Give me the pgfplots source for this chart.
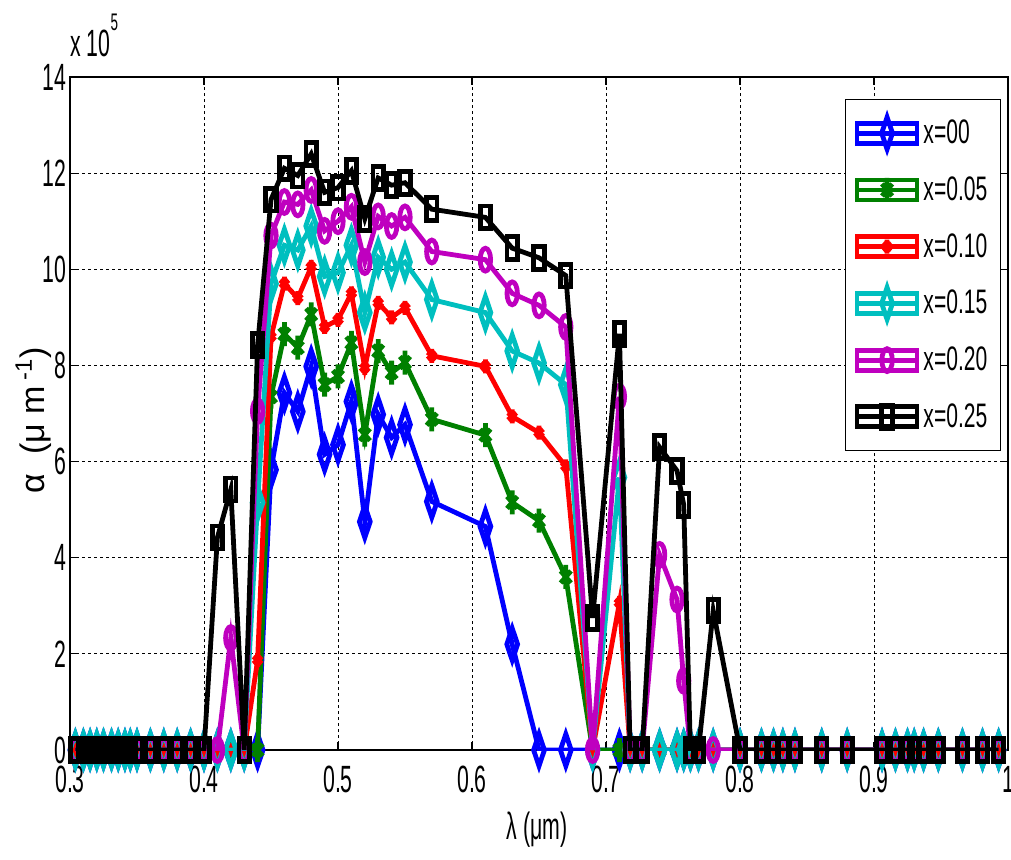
\documentclass[border=0pt]{standalone}
\usepackage{fontspec}
\setmainfont{Liberation Sans}
\newfontfamily\nf[FakeStretch=0.56]{Liberation Sans}
\newfontfamily\lf[FakeStretch=0.62]{Liberation Sans}
\usepackage{pgfplots}
\pgfplotsset{compat=1.18}
\usepackage{pgfplotstable}

\definecolor{mblue}{rgb}{0,0,1}
\definecolor{mgreen}{rgb}{0,0.5,0}
\definecolor{mred}{rgb}{1,0,0}
\definecolor{mcyan}{rgb}{0,0.75,0.75}
\definecolor{mmag}{rgb}{0.75,0,0.75}

\pgfplotstableread{
x      b     g     r     c      m      k
0.304  0     0     0     0      0      0
0.310  0     0     0     0      0      0
0.315  0     0     0     0      0      0
0.320  0     0     0     0      0      0
0.325  0     0     0     0      0      0
0.331  0     0     0     0      0      0
0.336  0     0     0     0      0      0
0.341  0     0     0     0      0      0
0.345  0     0     0     0      0      0
0.350  0     0     0     0      0      0
0.360  0     0     0     0      0      0
0.370  0     0     0     0      0      0
0.380  0     0     0     0      0      0
0.390  0     0     0     0      0      0
0.400  0     0     0     0      0      0
0.410  0     0     0     0      0      4.42
0.420  0     0     0     0      2.33   5.42
0.430  0     0     0     0      0      0
0.440  0     0     1.87  5.15   7.05   8.42
0.450  5.83  7.35  8.60  9.70   10.70  11.45
0.460  7.43  8.65  9.70  10.50  11.40  12.10
0.470  7.04  8.37  9.40  10.40  11.35  11.95
0.480  7.98  9.06  10.05 10.90  11.65  12.40
0.490  6.15  7.60  8.80  9.85   10.80  11.60
0.500  6.35  7.77  8.95  9.93   11.00  11.70
0.510  7.25  8.47  9.50  10.50  11.30  12.05
0.520  4.75  6.56  7.95  9.10   10.15  11.05
0.530  6.98  8.30  9.30  10.25  11.10  11.90
0.540  6.50  7.85  9.00  10.00  10.90  11.75
0.550  6.77  8.06  9.20  10.15  11.08  11.80
0.570  5.17  6.88  8.20  9.37   10.37  11.25
0.610  4.65  6.55  7.98  9.10   10.20  11.08
0.630  2.20  5.15  6.94  8.30   9.50   10.44
0.650  0     4.77  6.60  8.05   9.25   10.24
0.670  0     3.60  5.90  7.60   8.80   9.87
0.690  0     0     0     0      0      2.75
0.710  0     0     3.06  5.67   7.35   8.66
0.718  0     0     0     0      0      0
0.727  0     0     0     0      0      0
0.740  0     0     0     0      4.06   6.30
0.753  0     0     0     0      3.13   5.81
0.758  0     0     0     0      1.44   5.10
0.763  0     0     0     0      0      0
0.769  0     0     0     0      0      0
0.780  0     0     0     0      0      2.90
0.800  0     0     0     0      0      0
0.816  0     0     0     0      0      0
0.825  0     0     0     0      0      0
0.832  0     0     0     0      0      0
0.841  0     0     0     0      0      0
0.861  0     0     0     0      0      0
0.880  0     0     0     0      0      0
0.906  0     0     0     0      0      0
0.916  0     0     0     0      0      0
0.925  0     0     0     0      0      0
0.930  0     0     0     0      0      0
0.937  0     0     0     0      0      0
0.948  0     0     0     0      0      0
0.966  0     0     0     0      0      0
0.981  0     0     0     0      0      0
0.993  0     0     0     0      0      0
}\data

\begin{document}
\begin{tikzpicture}
\begin{axis}[
  scale only axis, width=469pt, height=336.5pt,
  xmin=0.3, xmax=1.0, ymin=0, ymax=14,
  clip mode=individual,
  xtick={0.3,0.4,0.5,0.6,0.7,0.8,0.9,1.0},
  xticklabels={0.3,0.4,0.5,0.6,0.7,0.8,0.9,1},
  ytick={0,2,4,6,8,10,12,14},
  tick align=inside, major tick length=4pt,
  grid=major,
  grid style={black, line width=0.5pt, dash pattern=on 1.5pt off 1.5pt},
  axis line style={line width=0.6pt},
  tick style={black, line width=0.6pt},
  ticklabel style={font=\nf\fontsize{19}{19}\selectfont},
  yticklabel style={inner xsep=1.5pt, inner ysep=0pt},
  xticklabel style={inner ysep=0pt, yshift=-8pt},
  /pgf/number format/assume math mode=true,
  xlabel={λ (μm)},
  xlabel style={font=\nf\fontsize{19}{19}\selectfont, at={(rel axis cs:0.498,-0.119)}, anchor=center},
  ylabel={α\ \ (μ m\,\textsuperscript{-1})},
  ylabel style={font=\fontsize{17}{17}\selectfont, at={(rel axis cs:-0.039,0.49)}, anchor=center},
  legend style={at={(rel axis cs:0.9925,0.967)}, anchor=north east, draw=black, line width=0.6pt,
    font=\lf\fontsize{17}{17}\selectfont, inner xsep=4.5pt, inner ysep=8pt, row sep=11pt,
    /tikz/every even column/.append style={column sep=0.5pt}},
  legend cell align=left,
  legend image code/.code={%
    \begin{pgfinterruptboundingbox}
    \draw[mark repeat=2,mark phase=2,#1] plot coordinates {(0pt,0pt) (15pt,0pt) (30pt,0pt)};
    \end{pgfinterruptboundingbox}
    \path (0pt,-5pt) rectangle (30pt,5pt);},
]
\addplot[mblue, line width=2.4pt, mark=diamond, mark size=8pt, mark options={xscale=0.45, solid}] table[x=x,y=b]{\data};
\addlegendentry{x=00}
\addplot[mgreen, line width=2.4pt, mark=asterisk, mark size=3pt, mark options={yscale=2, solid}] table[x=x,y=g]{\data};
\addlegendentry{x=0.05}
\addplot[mred, line width=2.4pt, mark=asterisk, mark size=2.5pt, mark options={yscale=1.4, solid}] table[x=x,y=r]{\data};
\addlegendentry{x=0.10}
\addplot[mcyan, line width=2.4pt, mark=diamond, mark size=8pt, mark options={xscale=0.45, solid}] table[x=x,y=c]{\data};
\addlegendentry{x=0.15}
\addplot[mmag, line width=2.4pt, mark=o, mark size=2.6pt, mark options={yscale=2.2, solid}] table[x=x,y=m]{\data};
\addlegendentry{x=0.20}
\addplot[black, line width=2.4pt, mark=square, mark size=2.6pt, mark options={yscale=2.2, solid}] table[x=x,y=k]{\data};
\addlegendentry{x=0.25}
\node[anchor=base west, inner sep=0pt, yshift=10.5pt, font=\nf\fontsize{19}{19}\selectfont] at (rel axis cs:0,1) {x 10\raisebox{13pt}{\fontsize{12}{12}\selectfont 5}};
\end{axis}
\pgfresetboundingbox
\path[use as bounding box] (-35pt,-54.5pt) rectangle (470.5pt,375pt);
\end{tikzpicture}
\end{document}
